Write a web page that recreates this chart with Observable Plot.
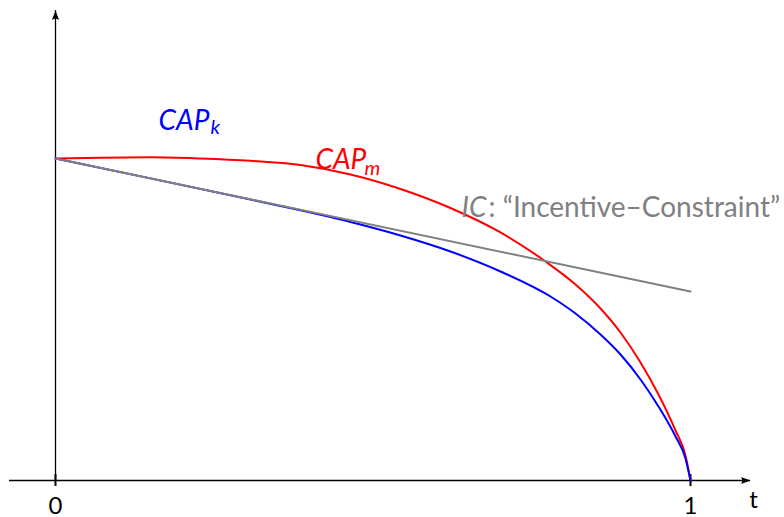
<!DOCTYPE html>
<html>
<head>
<meta charset="utf-8">
<script src="https://cdn.jsdelivr.net/npm/d3@7"></script>
<script src="https://cdn.jsdelivr.net/npm/@observablehq/plot@0.6"></script>
<style>
  body { margin: 0; background: #fff; }
  #chart svg { display: block; }
</style>
</head>
<body>
<div id="chart"></div>
<script>
// Capacity curves over t in [0, 1], normalised so both start at 1.
const capMT = [0, 0.0709, 0.1496, 0.2283, 0.3071, 0.3858, 0.4646, 0.5433, 0.6220, 0.7008, 0.7717, 0.8189, 0.8583, 0.8898, 0.9213, 0.9496, 0.9764, 0.9921, 1];
const capMV = [1, 1.0025, 1.0037, 1.0, 0.9929, 0.9798, 0.9503, 0.9053, 0.8463, 0.7702, 0.6801, 0.6087, 0.5342, 0.4596, 0.3665, 0.2671, 0.1553, 0.0776, 0];

const capKT = [0, 0.1496, 0.3071, 0.3858, 0.4646, 0.5433, 0.6220, 0.7008, 0.7795, 0.8189, 0.8583, 0.8898, 0.9213, 0.9496, 0.9764, 0.9921, 1];
const capKV = [1, 0.9382, 0.8724, 0.8391, 0.8028, 0.7609, 0.7112, 0.6491, 0.5714, 0.5186, 0.4534, 0.3913, 0.3137, 0.2298, 0.1366, 0.0683, 0];

// Incentive constraint: straight line
const icT = [0, 1];
const icV = [1, 0.587];

const xTicks = [0, 1];
const xTickLabels = ["0", "1"];
const xAxisName = "t";

const toRows = (ts, vs) => ts.map((t, i) => ({t, v: vs[i]}));

// Axis extents (data units)
const yTop = 1.4596;
const xLeft = -0.0724;
const xRight = 1.0945;
const tickHalf = 6 * yTop / 470;

// Filled arrowhead with its tip at the origin, pointing right
const arrowHead = {
  draw(context) {
    context.moveTo(0, 0);
    context.lineTo(-9.5, -3.6);
    context.quadraticCurveTo(-7, 0, -9.5, 3.6);
    context.closePath();
  }
};

const FONT = "Lato, 'Open Sans', sans-serif";

const chart = Plot.plot({
  width: 784,
  height: 517,
  marginLeft: 55,
  marginRight: 94,
  marginTop: 10,
  marginBottom: 37,
  style: {fontFamily: FONT, background: "#fff", overflow: "visible"},
  x: {domain: [0, 1], axis: null},
  y: {domain: [0, yTop], axis: null},
  marks: [
    // axes
    Plot.ruleY([0], {x1: xLeft, x2: xRight, stroke: "#000", strokeWidth: 1.3}),
    Plot.ruleX([0], {y1: 0, y2: yTop, stroke: "#000", strokeWidth: 1.3}),
    Plot.dot([{x: xRight, y: 0}], {x: "x", y: "y", symbol: arrowHead, fill: "#000", stroke: null, r: 4}),
    Plot.dot([{x: 0, y: yTop}], {x: "x", y: "y", symbol: arrowHead, fill: "#000", stroke: null, r: 4, rotate: -90}),
    Plot.ruleX(xTicks, {y1: -tickHalf, y2: tickHalf, stroke: "#000", strokeWidth: 2}),
    Plot.text(xTicks, {x: d => d, y: 0, text: (d, i) => xTickLabels[i], dy: 16, lineAnchor: "top", fontSize: 24, fill: "#000"}),
    Plot.text([xAxisName], {x: xRight, y: 0, dx: 3, dy: 10, lineAnchor: "top", fontSize: 24, fill: "#000"}),

    // curves
    Plot.line(toRows(capMT, capMV), {x: "t", y: "v", stroke: "#ff0000", strokeWidth: 2, curve: "monotone-x"}),
    Plot.line(toRows(capKT, capKV), {x: "t", y: "v", stroke: "#0000ff", strokeWidth: 2, curve: "monotone-x"}),
    Plot.line(toRows(icT, icV), {x: "t", y: "v", stroke: "#808080", strokeWidth: 2}),

    // labels
    Plot.text(["CAP"], {x: 0.1622, y: 1.089, textAnchor: "start", lineAnchor: "bottom", fontStyle: "italic", fontSize: 28, fill: "#0000ff"}),
    Plot.text(["k"], {x: 0.2441, y: 1.0776, textAnchor: "start", lineAnchor: "bottom", fontStyle: "italic", fontSize: 20, fill: "#0000ff"}),
    Plot.text(["CAP"], {x: 0.4094, y: 0.9689, textAnchor: "start", lineAnchor: "bottom", fontStyle: "italic", fontSize: 28, fill: "#ff0000"}),
    Plot.text(["m"], {x: 0.4866, y: 0.9472, textAnchor: "start", lineAnchor: "bottom", fontStyle: "italic", fontSize: 20, fill: "#ff0000"}),
    Plot.text(["IC"], {x: 0.6394, y: 0.8168, textAnchor: "start", lineAnchor: "bottom", fontStyle: "italic", fontSize: 28, fill: "#808080"}),
    Plot.text([": \u201CIncentive\u2013Constraint\u201D"], {x: 0.6819, y: 0.8168, textAnchor: "start", lineAnchor: "bottom", fontSize: 28, fill: "#808080"})
  ]
});

document.getElementById("chart").appendChild(chart);
</script>
</body>
</html>
